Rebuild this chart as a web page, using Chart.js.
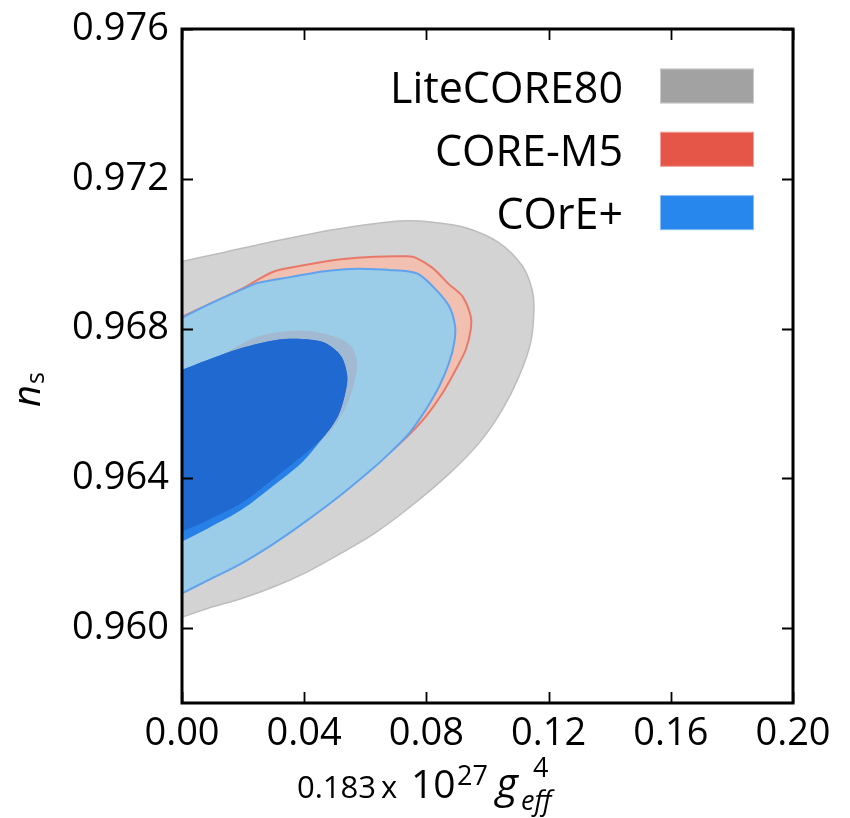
<!DOCTYPE html>
<html>
<head>
<meta charset="utf-8">
<script src="https://cdn.jsdelivr.net/npm/chart.js@4/dist/chart.umd.min.js"></script>
<style>
html,body{margin:0;padding:0;background:#fff;}
#wrap{width:850px;height:818px;position:relative;}
</style>
</head>
<body>
<div id="wrap"><canvas id="c" width="850" height="818"></canvas></div>
<script>
// ---- tick values ----
const xTicks = [0.00, 0.04, 0.08, 0.12, 0.16, 0.20];
const yTicks = [0.960, 0.964, 0.968, 0.972, 0.976];
const legendLabels = ['LiteCORE80', 'CORE-M5', 'COrE+'];

// ---- contour outlines (x = 0.183e27 g_eff^4, y = n_s) ----
// LiteCORE80 2-sigma
const liteOuterX = [0, 0.0140, 0.0284, 0.0505, 0.0711, 0.0820, 0.0929, 0.1038, 0.1114, 0.1146, 0.1152, 0.1141, 0.1103, 0.1048, 0.0972, 0.0874, 0.0738, 0.0630, 0.0521, 0.0412, 0.0303, 0.0195, 0.0086, 0];
const liteOuterY = [0.96979, 0.97004, 0.97030, 0.97065, 0.97087, 0.97084, 0.97069, 0.97029, 0.96967, 0.96904, 0.96851, 0.96762, 0.96672, 0.96583, 0.96494, 0.96412, 0.96318, 0.96253, 0.96200, 0.96151, 0.96111, 0.96079, 0.96053, 0.96029];
// LiteCORE80 1-sigma
const liteInnerX = [0, 0.0124, 0.0248, 0.0391, 0.0499, 0.0554, 0.0573, 0.0564, 0.0537, 0.0483, 0.0385, 0.0189, 0];
const liteInnerY = [0.96685, 0.96728, 0.96779, 0.96795, 0.96779, 0.96753, 0.96708, 0.96656, 0.96592, 0.96524, 0.96450, 0.96329, 0.96257];
// CORE-M5 2-sigma
const coreM5OuterX = [0, 0.0086, 0.0195, 0.0303, 0.0412, 0.0521, 0.0630, 0.0738, 0.0766, 0.0820, 0.0874, 0.0918, 0.0945, 0.0945, 0.0929, 0.0896, 0.0853, 0.0798, 0.0738, 0.0682, 0.0626, 0.0521, 0.0412, 0.0303, 0.0195, 0.0086, 0];
const coreM5OuterY = [0.96831, 0.96864, 0.96906, 0.96953, 0.96971, 0.96985, 0.96992, 0.96993, 0.96989, 0.96962, 0.96918, 0.96886, 0.96833, 0.96797, 0.96744, 0.96690, 0.96628, 0.96565, 0.96512, 0.96470, 0.96432, 0.96360, 0.96296, 0.96235, 0.96182, 0.96137, 0.96106];
// CORE-M5 1-sigma
const coreM5InnerX = [0, 0.0086, 0.0195, 0.0303, 0.0391, 0.0467, 0.0521, 0.0541, 0.0532, 0.0510, 0.0467, 0.0391, 0.0303, 0.0195, 0.0086, 0];
const coreM5InnerY = [0.96690, 0.96717, 0.96748, 0.96769, 0.96772, 0.96762, 0.96726, 0.96672, 0.96619, 0.96565, 0.96514, 0.96458, 0.96401, 0.96334, 0.96289, 0.96258];
// COrE+ 2-sigma
const corePlusOuterX = [0, 0.0086, 0.0195, 0.0249, 0.0358, 0.0467, 0.0575, 0.0684, 0.0738, 0.0777, 0.0831, 0.0874, 0.0894, 0.0891, 0.0874, 0.0842, 0.0798, 0.0744, 0.0688, 0.0630, 0.0521, 0.0412, 0.0303, 0.0195, 0.0086, 0];
const corePlusOuterY = [0.96829, 0.96864, 0.96904, 0.96922, 0.96938, 0.96953, 0.96960, 0.96956, 0.96953, 0.96944, 0.96904, 0.96860, 0.96806, 0.96762, 0.96708, 0.96646, 0.96583, 0.96521, 0.96474, 0.96430, 0.96356, 0.96289, 0.96227, 0.96173, 0.96128, 0.96093];
// COrE+ 1-sigma
const corePlusInnerX = [0, 0.0086, 0.0195, 0.0303, 0.0391, 0.0467, 0.0521, 0.0541, 0.0532, 0.0510, 0.0456, 0.0391, 0.0303, 0.0195, 0.0086, 0];
const corePlusInnerY = [0.96690, 0.96717, 0.96748, 0.96769, 0.96772, 0.96762, 0.96726, 0.96672, 0.96619, 0.96565, 0.96503, 0.96441, 0.96383, 0.96316, 0.96267, 0.96231];

function pts(xs, ys) { return xs.map((x, i) => ({x: x, y: ys[i]})); }

const FONT = "'Open Sans', 'DejaVu Sans', sans-serif";

function shape(label, xs, ys, fillCol, lineCol, lw, order) {
  return {
    label: label,
    data: pts(xs, ys),
    showLine: true,
    fill: 'shape',
    backgroundColor: fillCol,
    borderColor: lineCol,
    borderWidth: lw,
    pointRadius: 0,
    pointHoverRadius: 0,
    tension: 0.3,
    order: order
  };
}

const datasets = [
  shape('LiteCORE80', liteOuterX, liteOuterY, '#d3d3d3', '#bdbdbd', 1.5, 7),
  shape('CORE-M5', coreM5OuterX, coreM5OuterY, '#f2c0b1', '#e87969', 2, 6),
  shape('COrE+', corePlusOuterX, corePlusOuterY, '#9ccde8', '#5fa2ee', 2, 5),
  shape('LiteCORE80 1σ', liteInnerX, liteInnerY, '#a1b9d1', 'rgba(0,0,0,0)', 0, 4),
  shape('COrE+ 1σ', corePlusInnerX, corePlusInnerY, '#2680e8', 'rgba(0,0,0,0)', 0, 3),
  shape('CORE-M5 1σ', coreM5InnerX, coreM5InnerY, '#1f69d1', 'rgba(0,0,0,0)', 0, 2)
];

const legendColors = ['#a2a2a2', '#e55648', '#2887ec'];

const framePlugin = {
  id: 'frame',
  afterDraw(chart) {
    const ctx = chart.ctx;
    const a = chart.chartArea;
    const xs = chart.scales.x, ys = chart.scales.y;
    ctx.save();
    // inward ticks on all four sides
    ctx.strokeStyle = '#000';
    ctx.lineWidth = 1.8;
    const tl = 11;
    ctx.beginPath();
    xTicks.forEach(v => {
      const p = Math.round(xs.getPixelForValue(v)) + 0.5;
      ctx.moveTo(p, a.bottom); ctx.lineTo(p, a.bottom - tl);
      ctx.moveTo(p, a.top); ctx.lineTo(p, a.top + tl);
    });
    yTicks.forEach(v => {
      const p = Math.round(ys.getPixelForValue(v)) + 0.5;
      ctx.moveTo(a.left, p); ctx.lineTo(a.left + tl, p);
      ctx.moveTo(a.right, p); ctx.lineTo(a.right - tl, p);
    });
    ctx.stroke();
    // spines
    ctx.lineWidth = 3;
    ctx.strokeRect(a.left, a.top, a.right - a.left, a.bottom - a.top);

    // legend
    ctx.textAlign = 'right';
    ctx.textBaseline = 'alphabetic';
    ctx.font = '43px ' + FONT;
    legendLabels.forEach((t, i) => {
      const y0 = 68.5 + i * 63.3;
      ctx.fillStyle = '#000';
      ctx.fillText(t, 623, y0 + 34);
      ctx.fillStyle = legendColors[i];
      ctx.fillRect(660, y0, 94, 35);
      ctx.strokeStyle = 'rgba(255,255,255,0.45)';
      ctx.lineWidth = 1;
      ctx.strokeRect(660.5, y0 + 0.5, 93, 34);
    });

    // x-axis title: 0.183 x 10^27 g_eff^4
    ctx.fillStyle = '#000';
    ctx.textAlign = 'left';
    const base = 798;
    ctx.font = '31px ' + FONT;
    ctx.fillText('0.183', 297, base);
    ctx.fillText('x', 381, base);
    ctx.font = '39px ' + FONT;
    ctx.fillText('10', 411, base);
    ctx.font = '27px ' + FONT;
    ctx.fillText('27', 457, base - 13);
    ctx.font = 'italic 42px ' + FONT;
    ctx.fillText('g', 496, base);
    ctx.font = '27px ' + FONT;
    ctx.fillText('4', 533, base - 21);
    ctx.font = 'italic 27px ' + FONT;
    ctx.fillText('eff', 521, base + 12);

    // y-axis title: n_s
    ctx.save();
    ctx.translate(40, 407);
    ctx.rotate(-Math.PI / 2);
    ctx.font = 'italic 38px ' + FONT;
    ctx.fillText('n', 0, 0);
    const nw = ctx.measureText('n').width;
    ctx.font = '25px ' + FONT;
    ctx.fillText('s', nw + 1, 4);
    ctx.restore();

    ctx.restore();
  }
};

new Chart(document.getElementById('c'), {
  type: 'scatter',
  data: { datasets: datasets },
  options: {
    responsive: false,
    animation: false,
    events: [],
    layout: { padding: { left: 0, top: 29, right: 57, bottom: 0 } },
    plugins: { legend: { display: false }, tooltip: { enabled: false } },
    scales: {
      x: {
        type: 'linear',
        min: 0, max: 0.20,
        afterBuildTicks: s => { s.ticks = xTicks.map(v => ({value: v})); },
        afterFit: s => { s.height = 115; s.paddingLeft = 0; s.paddingRight = 0; },
        grid: { display: false, drawTicks: false },
        border: { display: false },
        ticks: {
          padding: 8,
          color: '#000',
          font: { family: FONT, size: 38 },
          maxRotation: 0,
          autoSkip: false,
          callback: v => Number(v).toFixed(2)
        }
      },
      y: {
        type: 'linear',
        min: 0.958, max: 0.976,
        afterBuildTicks: s => { s.ticks = yTicks.map(v => ({value: v})); },
        afterFit: s => { s.width = 182; s.paddingTop = 0; s.paddingBottom = 0; },
        grid: { display: false, drawTicks: false },
        border: { display: false },
        ticks: {
          padding: 13,
          color: '#000',
          font: { family: FONT, size: 38 },
          autoSkip: false,
          callback: v => Number(v).toFixed(3)
        }
      }
    }
  },
  plugins: [framePlugin]
});
</script>
</body>
</html>
